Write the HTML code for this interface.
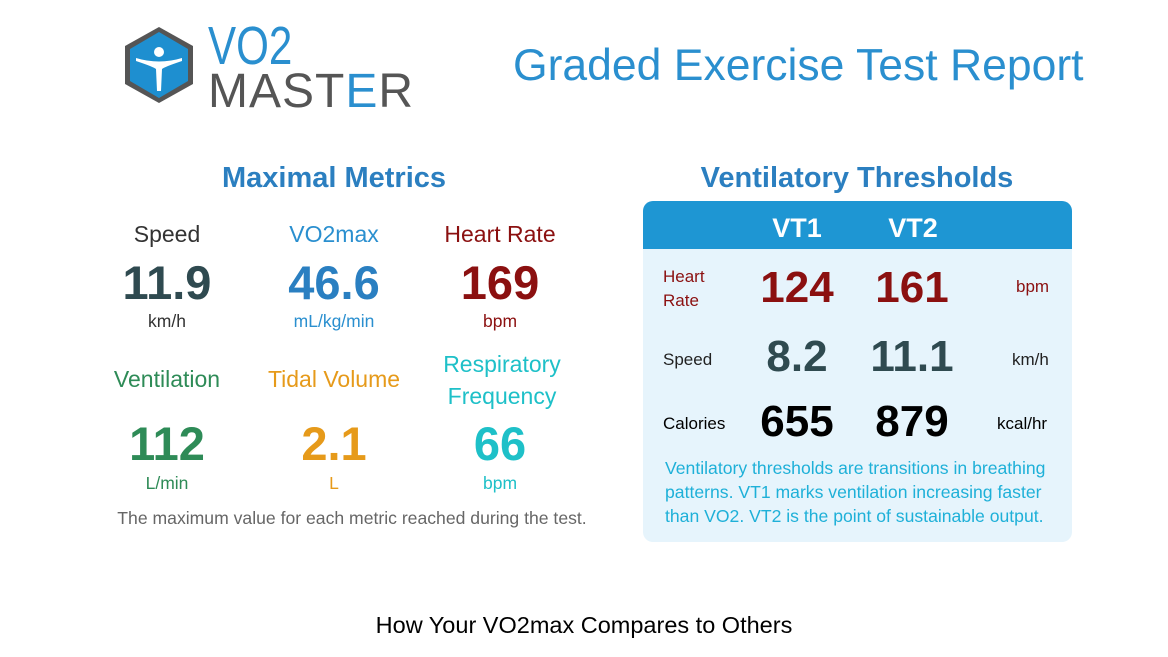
<!DOCTYPE html>
<html><head><meta charset="utf-8"><style>
body{margin:0;width:1168px;height:657px;background:#fff;font-family:"Liberation Sans",sans-serif;position:relative;overflow:hidden}
.a{position:absolute;white-space:nowrap}
.c{transform:translateX(-50%);text-align:center}
.lbl{font-size:23px}
.big{font-size:47px;font-weight:bold}
.u{font-size:17.5px}
.vt{font-size:44px;font-weight:bold}
</style></head><body>
<svg class="a" style="left:122px;top:25px" width="74" height="80" viewBox="0 0 74 80">
<polygon points="37,2 71,21 71,59 37,78 3,59 3,21" fill="#555" />
<polygon points="37,7 66,24 66,56 37,73 8,56 8,24" fill="#1e8fd0"/>
<circle cx="37" cy="27" r="5" fill="#fff"/>
<path d="M14,33 Q37,40 60,33 L60,36 Q42,42 40,44 L39,66 L35,66 L34,44 Q32,42 14,36Z" fill="#fff"/>
</svg>
<div class="a" style="left:208px;top:15px;font-size:54px;color:#2a8fcf;transform:scaleX(0.78);transform-origin:0 0">VO2</div>
<div class="a" style="left:208px;top:64px;font-size:48px;color:#555;letter-spacing:1px">MAST<span style="color:#2a8fcf">E</span>R</div>
<div class="a" style="left:513px;top:41px;font-size:44.5px;color:#2a8fcf">Graded Exercise Test Report</div>

<div class="a c" style="left:334px;top:162px;font-size:29px;font-weight:bold;color:#2b7fc0">Maximal Metrics</div>
<div class="a c" style="left:857px;top:162px;font-size:29px;font-weight:bold;color:#2b7fc0">Ventilatory Thresholds</div>

<div class="a c lbl" style="left:167px;top:221px;color:#333">Speed</div>
<div class="a c lbl" style="left:334px;top:221px;color:#2a8fcf">VO2max</div>
<div class="a c lbl" style="left:500px;top:221px;color:#8b1010">Heart Rate</div>
<div class="a c big" style="left:167px;top:255px;color:#2f4a50">11.9</div>
<div class="a c big" style="left:334px;top:255px;color:#2a7fc1">46.6</div>
<div class="a c big" style="left:500px;top:255px;color:#8b1010">169</div>
<div class="a c u" style="left:167px;top:311px;color:#333">km/h</div>
<div class="a c u" style="left:334px;top:311px;color:#2a8fcf">mL/kg/min</div>
<div class="a c u" style="left:500px;top:311px;color:#8b1010">bpm</div>

<div class="a c lbl" style="left:167px;top:366px;color:#2e8b57">Ventilation</div>
<div class="a c lbl" style="left:334px;top:366px;color:#e69a1a">Tidal Volume</div>
<div class="a c lbl" style="left:502px;top:348px;color:#1ec0c8;line-height:32px">Respiratory<br>Frequency</div>
<div class="a c big" style="left:167px;top:416px;color:#2e8b57">112</div>
<div class="a c big" style="left:334px;top:416px;color:#e69a1a">2.1</div>
<div class="a c big" style="left:500px;top:416px;color:#1ec0c8">66</div>
<div class="a c u" style="left:167px;top:473px;color:#2e8b57">L/min</div>
<div class="a c u" style="left:334px;top:473px;color:#e69a1a">L</div>
<div class="a c u" style="left:500px;top:473px;color:#1ec0c8">bpm</div>
<div class="a c" style="left:352px;top:508px;font-size:17.6px;color:#666">The maximum value for each metric reached during the test.</div>

<div class="a" style="left:643px;top:201px;width:429px;height:341px;background:#e6f4fc;border-radius:10px;overflow:hidden">
<div style="height:48px;background:#1e96d3"></div></div>
<div class="a c" style="left:797px;top:213px;font-size:27px;font-weight:bold;color:#fff">VT1</div>
<div class="a c" style="left:913px;top:213px;font-size:27px;font-weight:bold;color:#fff">VT2</div>

<div class="a" style="left:663px;top:265px;font-size:17px;line-height:24px;color:#8b1010">Heart<br>Rate</div>
<div class="a c vt" style="left:797px;top:263px;color:#8b1010">124</div>
<div class="a c vt" style="left:912px;top:263px;color:#8b1010">161</div>
<div class="a" style="left:1016px;top:277px;font-size:17px;color:#8b1010">bpm</div>

<div class="a" style="left:663px;top:350px;font-size:17px;color:#222">Speed</div>
<div class="a c vt" style="left:797px;top:332px;color:#2f4a50">8.2</div>
<div class="a c vt" style="left:912px;top:332px;color:#2f4a50">11.1</div>
<div class="a" style="left:1012px;top:350px;font-size:17px;color:#222">km/h</div>

<div class="a" style="left:663px;top:414px;font-size:17px;color:#000">Calories</div>
<div class="a c vt" style="left:797px;top:397px;color:#000">655</div>
<div class="a c vt" style="left:912px;top:397px;color:#000">879</div>
<div class="a" style="left:997px;top:414px;font-size:17px;color:#000">kcal/hr</div>

<div class="a" style="left:665px;top:456px;font-size:17.6px;line-height:24px;color:#1eb0d8">Ventilatory thresholds are transitions in breathing<br>patterns. VT1 marks ventilation increasing faster<br>than VO2. VT2 is the point of sustainable output.</div>

<div class="a c" style="left:584px;top:612px;font-size:23.5px;color:#000">How Your VO2max Compares to Others</div>
</body></html>
